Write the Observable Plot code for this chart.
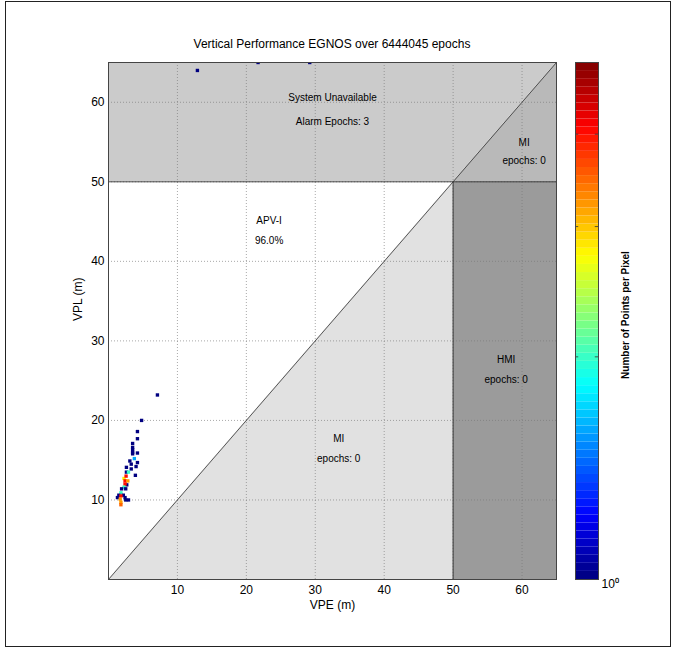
<!DOCTYPE html>
<html><head><meta charset="utf-8">
<script src="https://cdn.jsdelivr.net/npm/d3@7"></script>
<script src="https://cdn.jsdelivr.net/npm/@observablehq/plot@0.6"></script>
<style>
body{margin:0;background:#fff;font-family:"Liberation Sans",Arial,sans-serif;}
#wrap{position:relative;width:677px;height:652px;overflow:hidden;}
#border{position:absolute;left:5px;top:1px;width:666px;height:646px;border:1.5px solid #222;box-sizing:border-box;}
#title{position:absolute;left:108px;top:37px;width:448px;text-align:center;font-size:12px;color:#000;}
#main{position:absolute;left:0;top:0;}
#cbar{position:absolute;left:560px;top:0;}
#cblabel{position:absolute;left:625px;top:315px;transform:translate(-50%,-50%) rotate(-90deg);white-space:nowrap;font-size:10px;font-weight:bold;color:#000;}
</style></head><body>
<div id="wrap">
  <div id="border"></div>
  <div id="title">Vertical Performance EGNOS over 6444045 epochs</div>
  <div id="main"></div>
  <div id="cbar"></div>
  <div id="cblabel">Number of Points per Pixel</div>
</div>
<script>
// ---- data ----
const xTicks = [10, 20, 30, 40, 50, 60];
const yTicks = [10, 20, 30, 40, 50, 60];
const cbTicks = [2, 3, 4];
const alarmLimit = 50;
const axisMax = 65;

// measured points: VPE, VPL, count per pixel
const vpe = [7.1, 4.8, 4.2, 4.2, 3.5, 3.5, 3.5, 3.5, 3.5, 4.2, 3.75, 4.2, 4.0, 3.1, 3.3, 2.6, 3.3, 2.6, 2.9, 3.9,
             2.25, 2.55, 2.4, 2.8, 2.65, 2.4, 2.25, 1.9, 2.5, 1.8, 2.15, 1.5, 1.8, 1.3, 1.7, 2.4, 2.5, 2.9, 1.8, 1.8,
             12.9, 21.7, 29.2];
const vpl = [23.2, 20.0, 18.6, 17.7, 17.1, 16.6, 16.3, 16.0, 15.8, 15.9, 15.2, 14.7, 14.2, 14.9, 14.5, 14.1, 13.9, 13.5, 13.5, 13.1,
             12.7, 13.0, 12.4, 12.4, 11.9, 12.0, 11.6, 11.4, 11.4, 10.9, 10.6, 10.6, 10.5, 10.3, 10.1, 10.3, 10.0, 10.0, 9.7, 9.4,
             64.0, 65.0, 65.0];
const counts = [1, 1, 1, 1, 1, 1, 1, 1, 1, 1, 1.6, 1, 1, 1, 1, 1, 1, 1, 2, 1,
                2.8, 4, 4, 3.2, 1, 4, 2, 1, 1, 2, 1, 1, 4, 1, 3.2, 1, 1, 1, 3.2, 3.5,
                1, 1, 1];

// region annotations
const annText = ["System Unavailable", "Alarm Epochs: 3", "MI", "epochs: 0", "APV-I", "96.0%", "HMI", "epochs: 0", "MI", "epochs: 0"];
const annX = [32.5, 32.5, 60.3, 60.3, 23.3, 23.3, 57.7, 57.7, 33.4, 33.4];
const annY = [60.6, 57.5, 54.9, 52.6, 45.1, 42.6, 27.6, 25.1, 17.7, 15.2];

// ---- helpers ----
function jet(t) {
  const c = v => Math.max(0, Math.min(1, v));
  const r = c(1.5 - Math.abs(4 * t - 3));
  const g = c(1.5 - Math.abs(4 * t - 2));
  const b = c(1.5 - Math.abs(4 * t - 1));
  return `rgb(${Math.round(r * 255)},${Math.round(g * 255)},${Math.round(b * 255)})`;
}
const colorScale = {type: "log", domain: [1, 5], interpolate: jet};

const points = vpe.map((v, i) => ({vpe: v, vpl: vpl[i], count: counts[i]}));
const ann = annText.map((t, i) => ({t, x: annX[i], y: annY[i]}));

// regions (Stanford plot)
const L = alarmLimit, M = axisMax;
const miLow = [{x: 0, y1: 0, y2: 0}, {x: L, y1: 0, y2: L}];
const topBand = [{x: 0, y1: L, y2: M}, {x: L, y1: L, y2: M}, {x: M, y1: M, y2: M}];
const topMI = [{x: L, y1: L, y2: L}, {x: M, y1: L, y2: M}];
const hmi = [{x1: L, x2: M, y1: 0, y2: L}];

const font = "Liberation Sans, Arial, sans-serif";

const main = Plot.plot({
  width: 600, height: 620,
  marginLeft: 108, marginRight: 44, marginTop: 62, marginBottom: 41,
  style: {fontFamily: font, fontSize: "12px", background: "transparent", overflow: "visible"},
  x: {domain: [0, M]},
  y: {domain: [0, M]},
  color: colorScale,
  marks: [
    Plot.areaY(miLow, {x: "x", y1: "y1", y2: "y2", fill: "#e1e1e1", curve: "linear"}),
    Plot.areaY(topBand, {x: "x", y1: "y1", y2: "y2", fill: "#cbcbcb", curve: "linear"}),
    Plot.areaY(topMI, {x: "x", y1: "y1", y2: "y2", fill: "#b9b9b9", curve: "linear"}),
    Plot.rect(hmi, {x1: "x1", x2: "x2", y1: "y1", y2: "y2", fill: "#9b9b9b"}),
    Plot.gridX(xTicks, {stroke: "#777", strokeOpacity: 0.8, strokeDasharray: "1,2", strokeWidth: 0.8}),
    Plot.gridY(yTicks, {stroke: "#777", strokeOpacity: 0.8, strokeDasharray: "1,2", strokeWidth: 0.8}),
    Plot.line([[0, 0], [M, M]], {stroke: "#333", strokeWidth: 0.8}),
    Plot.ruleY([L], {x1: 0, x2: M, stroke: "#333", strokeWidth: 0.9}),
    Plot.ruleX([L], {y1: 0, y2: L, stroke: "#333", strokeWidth: 0.9}),
    Plot.text(ann, {x: "x", y: "y", text: "t", fontSize: 10, fill: "#000"}),
    Plot.dot(points, {x: "vpe", y: "vpl", fill: "count", symbol: "square", r: 1.9, clip: true}),
    Plot.frame({stroke: "#444", strokeWidth: 1}),
    Plot.axisX(xTicks, {anchor: "bottom", tickSize: 0, tickPadding: 6, label: null, fontSize: 12}),
    Plot.axisY(yTicks, {anchor: "left", tickSize: 0, tickPadding: 4, label: null, fontSize: 12}),
    Plot.text(["VPE (m)"], {frameAnchor: "bottom", dy: 29, fontSize: 12, fill: "#000"}),
    Plot.text(["VPL (m)"], {frameAnchor: "left", dx: -30, rotate: -90, fontSize: 12, fill: "#000"})
  ]
});
document.getElementById("main").appendChild(main);

// colorbar
const nBands = 64;
const bands = d3.range(nBands).map(i => ({
  lo: Math.pow(5, i / nBands), hi: Math.pow(5, (i + 1) / nBands), mid: Math.pow(5, (i + 0.5) / nBands)
}));
const cbar = Plot.plot({
  width: 117, height: 620,
  marginLeft: 15, marginRight: 79, marginTop: 62, marginBottom: 41,
  style: {fontFamily: font, fontSize: "12px", background: "transparent", overflow: "visible"},
  x: {domain: [0, 1], axis: null},
  y: {type: "log", domain: [1, 5]},
  color: colorScale,
  marks: [
    Plot.rect(bands, {x1: () => 0, x2: () => 1, y1: "lo", y2: "hi", fill: "mid"}),
    Plot.ruleY(cbTicks, {x1: () => 0, x2: () => 0.14, stroke: "#333", strokeWidth: 0.8}),
    Plot.ruleY(cbTicks, {x1: () => 0.86, x2: () => 1, stroke: "#333", strokeWidth: 0.8}),
    Plot.frame({stroke: "#444", strokeWidth: 1}),
    Plot.axisY([1], {anchor: "right", tickSize: 0, tickPadding: 3, dy: 5, tickFormat: () => "10⁰", label: null, fontSize: 12})
  ]
});
document.getElementById("cbar").appendChild(cbar);
</script>
</body></html>
